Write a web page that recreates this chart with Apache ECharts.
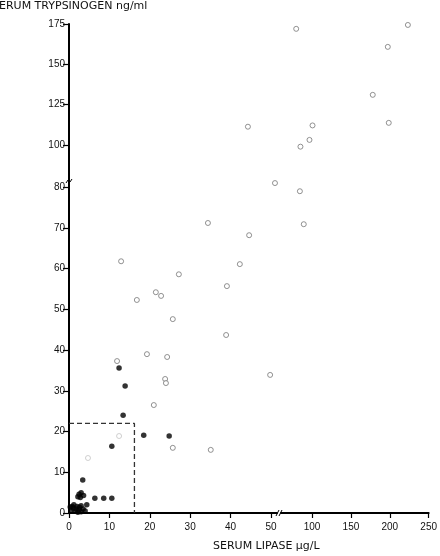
<!DOCTYPE html>
<html>
<head>
<meta charset="utf-8">
<script src="https://cdn.jsdelivr.net/npm/echarts@6/dist/echarts.min.js"></script>
<style>
html,body{margin:0;padding:0;background:#fff;}
#c{width:440px;height:556px;}
</style>
</head>
<body>
<div id="c"></div>
<script>
// Tick labels
var xTicksLow = [0, 10, 20, 30, 40, 50];
var xTicksHigh = [100, 150, 200, 250];
var yTicksLow = [0, 10, 20, 30, 40, 50, 60, 70, 80];
var yTicksHigh = [100, 125, 150, 175];

// Open circles, split by broken-axis segment [lipase, trypsinogen]
var openLowLow = [[51,81],[44.6,68.2],[42.3,61.1],[39.1,55.7],[38.9,43.7],[34.4,71.2],[12.9,61.8],[27.2,58.6],[21.5,54.2],[22.8,53.3],[16.8,52.3],[25.7,47.6],[19.3,39.0],[24.3,38.3],[11.9,37.3],[23.8,32.9],[24.0,31.9],[21.0,26.5],[25.7,16.0],[35.1,15.5],[49.8,33.9]];
var openFaint = [[12.4,18.9],[4.7,13.5]];
var openHighLow = [[84.3,79],[89.3,70.9]];
var openLowHigh = [[44.3,111.2]];
var openHighHigh = [[79,172],[218.6,174.4],[193.5,160.8],[174.7,131],[194.7,113.6],[99.4,112],[95.6,103],[84.3,98.8]];

// Filled dots
var filled = [[12.4,35.6],[13.9,31.2],[13.4,24.0],[18.5,19.1],[24.8,18.9],[10.6,16.4],[3.4,8.1],[2.5,4.6],[3.0,5.0],[2.2,4.0],[3.6,4.3],[2.8,3.8],[4.4,2.0],[6.4,3.6],[8.6,3.6],[10.6,3.6],[0.5,0.5],[1.0,1.2],[1.5,0.4],[2.0,1.6],[2.5,0.8],[3.0,0.3],[3.5,1.0],[1.2,2.0],[2.2,0.2],[0.8,1.6],[3.0,1.8],[4.0,0.5],[1.8,1.0],[0.3,1.5],[2.6,1.4]];

// Dashed reference box
var boxLine = [[0,22],[16.2,22],[16.2,0]];

var FONT = 'Liberation Sans';
var lblStyle = {color:'#111', fontSize:10, fontFamily:FONT};
var lineSt = {color:'#000', width:2};

function xAx(grid, min, max, ticks, show) {
  return {
    type:'value', gridIndex:grid, min:min, max:max, show:show,
    axisLine:{show:true, onZero:false, lineStyle:lineSt},
    axisTick:{show:true, length:5, customValues:ticks, lineStyle:{color:'#000', width:1.2}},
    axisLabel:Object.assign({show:true, margin:9, customValues:ticks}, lblStyle),
    splitLine:{show:false}
  };
}
function yAx(grid, min, max, ticks, show) {
  return {
    type:'value', gridIndex:grid, min:min, max:max, show:show,
    axisLine:{show:true, onZero:false, lineStyle:lineSt},
    axisTick:{show:true, length:6, customValues:ticks, lineStyle:{color:'#000', width:1.2}},
    axisLabel:Object.assign({show:true, margin:4, customValues:ticks}, lblStyle),
    splitLine:{show:false}
  };
}

var openStyle = {color:'#fff', borderColor:'#777', borderWidth:1};
var faintStyle = {color:'#fff', borderColor:'#c4c4c4', borderWidth:1};

var option = {
  animation:false,
  backgroundColor:'#fff',
  grid:[
    {left:69, top:179, width:208, height:334},
    {left:281, top:179, width:152, height:334},
    {left:69, top:24, width:208, height:161},
    {left:281, top:24, width:152, height:161}
  ],
  xAxis:[
    xAx(0, 0, 51.5, xTicksLow, true),
    xAx(1, 60, 250, xTicksHigh, true),
    xAx(2, 0, 51.5, [], false),
    xAx(3, 60, 250, [], false)
  ],
  yAxis:[
    yAx(0, 0, 82, yTicksLow, true),
    yAx(1, 0, 82, [], false),
    yAx(2, 75, 175, yTicksHigh, true),
    yAx(3, 75, 175, [], false)
  ],
  series:[
    {type:'line', xAxisIndex:0, yAxisIndex:0, data:boxLine, symbol:'none', lineStyle:{color:'#333', width:1.3, type:[5,3]}, z:1},
    {type:'scatter', xAxisIndex:0, yAxisIndex:0, data:openLowLow, symbol:'circle', symbolSize:5, itemStyle:openStyle, clip:false},
    {type:'scatter', xAxisIndex:0, yAxisIndex:0, data:openFaint, symbol:'circle', symbolSize:5, itemStyle:faintStyle, clip:false},
    {type:'scatter', xAxisIndex:1, yAxisIndex:1, data:openHighLow, symbol:'circle', symbolSize:5, itemStyle:openStyle, clip:false},
    {type:'scatter', xAxisIndex:2, yAxisIndex:2, data:openLowHigh, symbol:'circle', symbolSize:5, itemStyle:openStyle, clip:false},
    {type:'scatter', xAxisIndex:3, yAxisIndex:3, data:openHighHigh, symbol:'circle', symbolSize:5, itemStyle:openStyle, clip:false},
    {type:'scatter', xAxisIndex:0, yAxisIndex:0, data:filled, symbol:'circle', symbolSize:5.5, itemStyle:{color:'#000'}, clip:false, z:3}
  ],
  graphic:[
    {type:'text', left:-8, top:1, style:{text:'SERUM TRYPSINOGEN ng/ml', fill:'#111', font:'11px "DejaVu Sans"'}},
    {type:'text', left:213, top:541, style:{text:'SERUM LIPASE \u03bcg/L', fill:'#111', font:'11px "DejaVu Sans"'}},
    // y-axis break mark
    {type:'polyline', shape:{points:[[66,183],[68,180],[70,182],[72,179]]}, style:{stroke:'#000', lineWidth:1, fill:null}},
    // x-axis break mark
    {type:'line', shape:{x1:276, y1:516, x2:279, y2:510}, style:{stroke:'#000', lineWidth:1}},
    {type:'line', shape:{x1:279, y1:516, x2:282, y2:510}, style:{stroke:'#000', lineWidth:1}}
  ]
};
echarts.init(document.getElementById('c'), null, {renderer:'canvas'}).setOption(option);
</script>
</body>
</html>
